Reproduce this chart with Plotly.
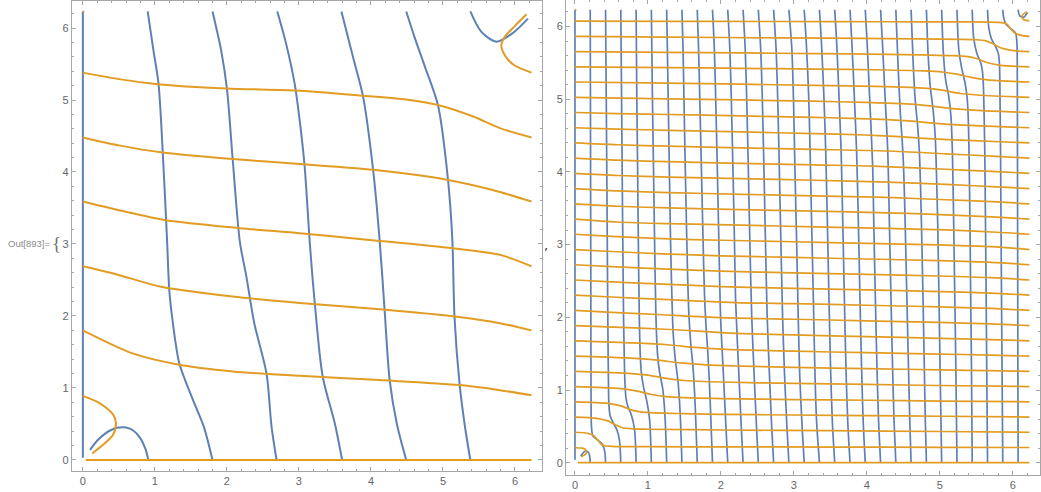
import plotly.graph_objects as go

# ---------------- data ----------------
TICK_VALS = [0, 1, 2, 3, 4, 5, 6]
TICK_TEXT = ["0", "1", "2", "3", "4", "5", "6"]

# left panel: blue contour curves (x list, y list)
L_BLUE = [
    ([0, 0], [0.03, 6.23]),
    ([0.91, 0.87, 0.80, 0.70, 0.60, 0.50, 0.40, 0.30, 0.20, 0.10], [0.0, 0.15, 0.30, 0.41, 0.45, 0.45, 0.42, 0.36, 0.27, 0.14]),
    ([1.80, 1.68, 1.53, 1.34, 1.25, 1.20, 1.17, 1.11, 1.05, 0.98, 0.90], [0, 0.46, 0.83, 1.34, 1.9, 2.36, 3.03, 4.26, 5.23, 5.69, 6.23]),
    ([2.69, 2.62, 2.55, 2.38, 2.27, 2.18, 2.08, 2.0, 1.92, 1.80], [0, 0.46, 1.2, 1.9, 2.55, 3.03, 4.18, 5.16, 5.69, 6.23]),
    ([3.60, 3.50, 3.33, 3.22, 3.15, 3.08, 3.01, 2.94, 2.82, 2.70], [0, 0.5, 1.16, 2.18, 3.03, 4.07, 4.72, 5.23, 5.79, 6.23]),
    ([4.49, 4.36, 4.26, 4.19, 4.12, 4.03, 3.89, 3.75, 3.59], [0, 0.5, 1.11, 2.08, 3.06, 4.03, 5.05, 5.6, 6.23]),
    ([5.38, 5.30, 5.23, 5.16, 5.13, 5.07, 4.93, 4.75, 4.61, 4.49], [0, 0.5, 1.06, 1.99, 3.06, 3.89, 4.93, 5.46, 5.86, 6.23]),
    ([5.38, 5.53, 5.74, 5.97, 6.18], [6.23, 5.95, 5.81, 5.93, 6.13]),
]

# left panel: orange contour curves
L_ORANGE = [
    ([0.04, 6.23], [0, 0]),
    ([0, 0.23, 0.42, 0.46, 0.42, 0.28, 0.13], [0.89, 0.79, 0.63, 0.51, 0.35, 0.21, 0.09]),
    ([0, 0.69, 1.30, 2.08, 3.01, 4.12, 5.23, 5.79, 6.23], [1.80, 1.48, 1.33, 1.23, 1.17, 1.11, 1.04, 0.97, 0.90]),
    ([0, 0.46, 1.07, 2.08, 3.01, 4.17, 5.19, 5.79, 6.23], [2.69, 2.58, 2.41, 2.27, 2.18, 2.09, 1.99, 1.90, 1.80]),
    ([0, 0.5, 1.16, 2.18, 3.01, 3.94, 5.14, 5.79, 6.23], [3.59, 3.47, 3.33, 3.22, 3.15, 3.06, 2.94, 2.85, 2.69]),
    ([0, 0.5, 1.11, 2.08, 3.01, 4.03, 5.07, 5.69, 6.23], [4.48, 4.37, 4.27, 4.18, 4.11, 4.03, 3.89, 3.75, 3.59]),
    ([0, 0.5, 1.04, 1.99, 3.01, 3.89, 4.54, 4.93, 5.42, 5.79, 6.23], [5.38, 5.29, 5.22, 5.16, 5.13, 5.06, 5.00, 4.93, 4.77, 4.61, 4.48]),
    ([6.16, 6.0, 5.86, 5.81, 5.86, 5.98, 6.23], [6.19, 6.03, 5.88, 5.76, 5.62, 5.49, 5.38]),
    ([0, 0.02], [6.23, 6.23]),
]

# right panel: orange contour curves
R_ORANGE = [
    ([0.04, 6.23], [0, 0]),
    ([0, 0.1, 0.145, 0.155, 0.12, 0.09], [0.206, 0.2, 0.18, 0.13, 0.1, 0.08]),
    ([0, .15, .25, .31, .37, .5, 1, 2, 3.5, 5, 6.23], [.419, .409, .377, .314, .245, .226, .220, .218, .215, .212, .209]),
    ([0, .3, .45, .55, .65, .8, 1, 2, 3.5, 5, 6.23], [.628, .611, .576, .523, .481, .465, .460, .450, .440, .429, .419]),
    ([0, .45, .65, .78, .9, 1.1, 1.5, 2, 3, 4, 5, 6.23], [.838, .817, .775, .723, .698, .685, .675, .666, .656, .647, .639, .628]),
    ([0, .6, .85, 1.05, 1.25, 1.5, 2, 3, 4, 5, 6.23], [1.047, 1.022, .984, .938, .909, .894, .882, .869, .859, .848, .838]),
    ([0, .6, 1.0, 1.25, 1.5, 2, 3, 4, 5, 6.23], [1.257, 1.236, 1.205, 1.159, 1.131, 1.110, 1.092, 1.077, 1.062, 1.047]),
    ([0, .7, 1.1, 1.45, 1.8, 2.3, 3, 4, 5, 6.23], [1.466, 1.441, 1.414, 1.372, 1.345, 1.328, 1.311, 1.294, 1.278, 1.257]),
    ([0, .8, 1.3, 1.65, 2.0, 2.5, 3, 4, 5, 5.7, 6.23], [1.676, 1.647, 1.619, 1.586, 1.563, 1.546, 1.534, 1.513, 1.494, 1.481, 1.466]),
    ([0, .9, 1.5, 1.9, 2.3, 3, 4, 5, 5.7, 6.23], [1.885, 1.851, 1.822, 1.795, 1.776, 1.757, 1.734, 1.711, 1.694, 1.676]),
    ([0, .5, 1.2, 2, 3, 4, 5, 5.7, 6.23], [2.094, 2.069, 2.035, 1.996, 1.973, 1.952, 1.929, 1.910, 1.885]),
    ([0, .5, 1.2, 2.2, 3, 4, 5, 5.7, 6.23], [2.304, 2.279, 2.247, 2.203, 2.187, 2.166, 2.143, 2.122, 2.094]),
    ([0, .5, 1.2, 2, 3, 4, 5, 5.7, 6.23], [2.513, 2.488, 2.456, 2.423, 2.398, 2.377, 2.354, 2.333, 2.304]),
    ([0, .5, 1.2, 2, 3, 4, 5, 5.7, 6.23], [2.723, 2.696, 2.666, 2.635, 2.612, 2.591, 2.568, 2.545, 2.513]),
    ([0, .5, 1.2, 2, 3, 4, 5, 5.7, 6.23], [2.932, 2.905, 2.873, 2.846, 2.823, 2.802, 2.779, 2.756, 2.723]),
    ([0, .5, 1.2, 2, 3, 4, 5, 5.7, 6.23], [3.142, 3.113, 3.081, 3.060, 3.039, 3.016, 2.995, 2.972, 2.932]),
    ([0, .583, 1.283, 2.283, 3.283, 4.283, 5.083, 5.783, 6.23], [3.351, 3.311, 3.288, 3.267, 3.244, 3.223, 3.202, 3.170, 3.142]),
    ([0, .583, 1.283, 2.283, 3.283, 4.283, 5.083, 5.783, 6.23], [3.560, 3.527, 3.504, 3.481, 3.460, 3.437, 3.410, 3.378, 3.351]),
    ([0, .583, 1.283, 2.283, 3.283, 4.283, 5.083, 5.783, 6.23], [3.770, 3.738, 3.715, 3.692, 3.671, 3.648, 3.617, 3.587, 3.560]),
    ([0, .583, 1.283, 2.283, 3.283, 4.283, 5.083, 5.783, 6.23], [3.979, 3.950, 3.929, 3.906, 3.885, 3.860, 3.827, 3.795, 3.770]),
    ([0, .583, 1.283, 2.283, 3.283, 4.083, 5.083, 5.783, 6.23], [4.189, 4.161, 4.140, 4.117, 4.096, 4.080, 4.036, 4.004, 3.979]),
    ([0, .583, 1.283, 2.283, 3.283, 4.283, 5.083, 5.783, 6.23], [4.398, 4.373, 4.354, 4.331, 4.310, 4.287, 4.248, 4.214, 4.189]),
    ([0, .583, 1.283, 2.283, 3.283, 3.983, 4.383, 4.783, 5.383, 6.23], [4.607, 4.589, 4.572, 4.549, 4.526, 4.507, 4.488, 4.461, 4.432, 4.398]),
    ([0, .583, 1.283, 2.283, 3.283, 3.783, 4.283, 4.633, 4.983, 5.483, 6.23], [4.817, 4.802, 4.789, 4.770, 4.749, 4.737, 4.720, 4.697, 4.664, 4.636, 4.607]),
    ([0, 1.283, 2.283, 3.283, 3.983, 4.483, 4.833, 5.183, 5.583, 6.23], [5.026, 5.005, 4.989, 4.972, 4.955, 4.938, 4.911, 4.869, 4.842, 4.817]),
    ([0, 1.283, 2.283, 3.283, 4.283, 4.783, 5.033, 5.283, 5.683, 6.23], [5.236, 5.221, 5.206, 5.191, 5.173, 5.152, 5.124, 5.078, 5.047, 5.026]),
    ([0, 1.283, 2.283, 3.283, 4.283, 4.783, 5.033, 5.233, 5.433, 5.683, 6.23], [5.445, 5.435, 5.424, 5.414, 5.401, 5.389, 5.374, 5.345, 5.299, 5.261, 5.236]),
    ([0, 1.283, 2.283, 3.283, 4.283, 4.783, 5.183, 5.383, 5.503, 5.633, 5.833, 6.23], [5.655, 5.644, 5.636, 5.627, 5.617, 5.608, 5.598, 5.585, 5.560, 5.508, 5.466, 5.445]),
    ([0, 1.283, 2.783, 4.283, 5.283, 5.483, 5.633, 5.733, 5.833, 5.983, 6.23], [5.864, 5.854, 5.843, 5.833, 5.823, 5.818, 5.802, 5.760, 5.707, 5.672, 5.655]),
    ([0, 1.283, 2.783, 4.283, 5.283, 5.783, 5.913, 5.973, 6.033, 6.133, 6.23], [6.074, 6.071, 6.068, 6.065, 6.063, 6.057, 6.038, 5.969, 5.906, 5.874, 5.864]),
    ([6.23, 6.183, 6.138, 6.128, 6.163, 6.193], [6.08, 6.083, 6.103, 6.153, 6.183, 6.203]),
    ([0, 0.02], [6.23, 6.23]),
]

# right panel: blue contour curves (x list, y list)
R_BLUE = [
    ([0, 0], [0.04, 6.23]),
    ([0.209, 0.2, 0.18, 0.13, 0.1, 0.08], [0, 0.1, 0.145, 0.155, 0.12, 0.09]),
    ([.419, .409, .377, .314, .245, .226, .220, .218, .215, .212, .209], [0, .15, .25, .31, .37, .5, 1, 2, 3.5, 5, 6.23]),
    ([.628, .611, .576, .523, .481, .465, .460, .450, .440, .429, .419], [0, .3, .45, .55, .65, .8, 1, 2, 3.5, 5, 6.23]),
    ([.838, .817, .775, .723, .698, .685, .675, .666, .656, .647, .639, .628], [0, .45, .65, .78, .9, 1.1, 1.5, 2, 3, 4, 5, 6.23]),
    ([1.047, 1.022, .984, .938, .909, .894, .882, .869, .859, .848, .838], [0, .6, .85, 1.05, 1.25, 1.5, 2, 3, 4, 5, 6.23]),
    ([1.257, 1.236, 1.205, 1.159, 1.131, 1.110, 1.092, 1.077, 1.062, 1.047], [0, .6, 1.0, 1.25, 1.5, 2, 3, 4, 5, 6.23]),
    ([1.466, 1.441, 1.414, 1.372, 1.345, 1.328, 1.311, 1.294, 1.278, 1.257], [0, .7, 1.1, 1.45, 1.8, 2.3, 3, 4, 5, 6.23]),
    ([1.676, 1.647, 1.619, 1.586, 1.563, 1.546, 1.534, 1.513, 1.494, 1.481, 1.466], [0, .8, 1.3, 1.65, 2.0, 2.5, 3, 4, 5, 5.7, 6.23]),
    ([1.885, 1.851, 1.822, 1.795, 1.776, 1.757, 1.734, 1.711, 1.694, 1.676], [0, .9, 1.5, 1.9, 2.3, 3, 4, 5, 5.7, 6.23]),
    ([2.094, 2.069, 2.035, 1.996, 1.973, 1.952, 1.929, 1.910, 1.885], [0, .5, 1.2, 2, 3, 4, 5, 5.7, 6.23]),
    ([2.304, 2.279, 2.247, 2.203, 2.187, 2.166, 2.143, 2.122, 2.094], [0, .5, 1.2, 2.2, 3, 4, 5, 5.7, 6.23]),
    ([2.513, 2.488, 2.456, 2.423, 2.398, 2.377, 2.354, 2.333, 2.304], [0, .5, 1.2, 2, 3, 4, 5, 5.7, 6.23]),
    ([2.723, 2.696, 2.666, 2.635, 2.612, 2.591, 2.568, 2.545, 2.513], [0, .5, 1.2, 2, 3, 4, 5, 5.7, 6.23]),
    ([2.932, 2.905, 2.873, 2.846, 2.823, 2.802, 2.779, 2.756, 2.723], [0, .5, 1.2, 2, 3, 4, 5, 5.7, 6.23]),
    ([3.142, 3.113, 3.081, 3.060, 3.039, 3.016, 2.995, 2.972, 2.932], [0, .5, 1.2, 2, 3, 4, 5, 5.7, 6.23]),
    ([3.351, 3.311, 3.288, 3.267, 3.244, 3.223, 3.202, 3.170, 3.142], [0, .583, 1.283, 2.283, 3.283, 4.283, 5.083, 5.783, 6.23]),
    ([3.560, 3.527, 3.504, 3.481, 3.460, 3.437, 3.410, 3.378, 3.351], [0, .583, 1.283, 2.283, 3.283, 4.283, 5.083, 5.783, 6.23]),
    ([3.770, 3.738, 3.715, 3.692, 3.671, 3.648, 3.617, 3.587, 3.560], [0, .583, 1.283, 2.283, 3.283, 4.283, 5.083, 5.783, 6.23]),
    ([3.979, 3.950, 3.929, 3.906, 3.885, 3.860, 3.827, 3.795, 3.770], [0, .583, 1.283, 2.283, 3.283, 4.283, 5.083, 5.783, 6.23]),
    ([4.189, 4.161, 4.140, 4.117, 4.096, 4.080, 4.036, 4.004, 3.979], [0, .583, 1.283, 2.283, 3.283, 4.083, 5.083, 5.783, 6.23]),
    ([4.398, 4.373, 4.354, 4.331, 4.310, 4.287, 4.248, 4.214, 4.189], [0, .583, 1.283, 2.283, 3.283, 4.283, 5.083, 5.783, 6.23]),
    ([4.607, 4.589, 4.572, 4.549, 4.526, 4.507, 4.488, 4.461, 4.432, 4.398], [0, .583, 1.283, 2.283, 3.283, 3.983, 4.383, 4.783, 5.383, 6.23]),
    ([4.817, 4.802, 4.789, 4.770, 4.749, 4.737, 4.720, 4.697, 4.664, 4.636, 4.607], [0, .583, 1.283, 2.283, 3.283, 3.783, 4.283, 4.633, 4.983, 5.483, 6.23]),
    ([5.026, 5.005, 4.989, 4.972, 4.955, 4.938, 4.911, 4.869, 4.842, 4.817], [0, 1.283, 2.283, 3.283, 3.983, 4.483, 4.833, 5.183, 5.583, 6.23]),
    ([5.236, 5.221, 5.206, 5.191, 5.173, 5.152, 5.124, 5.078, 5.047, 5.026], [0, 1.283, 2.283, 3.283, 4.283, 4.783, 5.033, 5.283, 5.683, 6.23]),
    ([5.445, 5.435, 5.424, 5.414, 5.401, 5.389, 5.374, 5.345, 5.299, 5.261, 5.236], [0, 1.283, 2.283, 3.283, 4.283, 4.783, 5.033, 5.233, 5.433, 5.683, 6.23]),
    ([5.655, 5.644, 5.636, 5.627, 5.617, 5.608, 5.598, 5.585, 5.560, 5.508, 5.466, 5.445], [0, 1.283, 2.283, 3.283, 4.283, 4.783, 5.183, 5.383, 5.503, 5.633, 5.833, 6.23]),
    ([5.864, 5.854, 5.843, 5.833, 5.823, 5.818, 5.802, 5.760, 5.707, 5.672, 5.655], [0, 1.283, 2.783, 4.283, 5.283, 5.483, 5.633, 5.733, 5.833, 5.983, 6.23]),
    ([6.074, 6.071, 6.068, 6.065, 6.063, 6.057, 6.038, 5.969, 5.906, 5.874, 5.864], [0, 1.283, 2.783, 4.283, 5.283, 5.783, 5.913, 5.973, 6.033, 6.133, 6.23]),
    ([6.074, 6.083, 6.103, 6.153, 6.183, 6.203], [6.23, 6.183, 6.138, 6.128, 6.163, 6.193]),
]

# ---------------- styling ----------------
BLUE = "#5E81B5"
ORANGE = "#E19C24"
W, H = 1041, 492

fig = go.Figure()


def add_lines(curves, color, width, xa, ya):
    for xs, ys in curves:
        fig.add_trace(go.Scatter(
            x=xs, y=ys, mode="lines",
            line=dict(color=color, width=width, shape="spline", smoothing=0.8),
            xaxis=xa, yaxis=ya, hoverinfo="skip", showlegend=False))


add_lines(L_BLUE, BLUE, 2.0, "x", "y")
add_lines(L_ORANGE, ORANGE, 2.0, "x", "y")
add_lines(R_BLUE, BLUE, 1.7, "x2", "y2")
add_lines(R_ORANGE, ORANGE, 1.7, "x2", "y2")

FRAME = "#a6a6a6"
axis_common = dict(
    showgrid=False, zeroline=False, showline=True, linecolor=FRAME, linewidth=1,
    mirror="ticks", ticks="inside", ticklen=4, tickwidth=1, tickcolor=FRAME,
    tickmode="array", tickvals=TICK_VALS, ticktext=TICK_TEXT,
    tickfont=dict(family="Liberation Sans, Arial, sans-serif", size=11, color="#666666"),
    minor=dict(dtick=0.2, tick0=0, ticks="inside", ticklen=2.2, tickwidth=1, tickcolor=FRAME),
    fixedrange=True,
)

fig.update_layout(
    width=W, height=H, margin=dict(l=0, r=0, t=0, b=0),
    paper_bgcolor="white", plot_bgcolor="white",
    xaxis=dict(axis_common, domain=[71.7 / W, 542 / W], range=[-0.155, 6.375], anchor="y"),
    yaxis=dict(axis_common, domain=[(H - 471) / H, (H - 1) / H], range=[-0.153, 6.375], anchor="x"),
    xaxis2=dict(axis_common, domain=[566 / W, 1040 / W], range=[-0.123, 6.374], anchor="y2"),
    yaxis2=dict(axis_common, domain=[(H - 475) / H, 1.0], range=[-0.169, 6.364], anchor="x2"),
    annotations=[
        dict(text="Out[893]=", x=6 / W, y=1 - 244 / H, xref="paper", yref="paper",
             xanchor="left", yanchor="middle", showarrow=False,
             font=dict(family="Liberation Sans, Arial, sans-serif", size=9.5, color="#8c8c8c")),
        dict(text="{", x=56 / W, y=1 - 244 / H, xref="paper", yref="paper",
             xanchor="center", yanchor="middle", showarrow=False,
             font=dict(family="Liberation Serif, serif", size=19, color="#707070")),
        dict(text=",", x=546 / W, y=1 - 245 / H, xref="paper", yref="paper",
             xanchor="center", yanchor="middle", showarrow=False,
             font=dict(family="DejaVu Sans, sans-serif", size=13, color="#333333")),
    ],
)

fig.write_html(
    "out.html",
    config={"displayModeBar": False, "staticPlot": True},
    post_script="document.body.style.margin='0px';document.body.style.overflow='hidden';",
)
